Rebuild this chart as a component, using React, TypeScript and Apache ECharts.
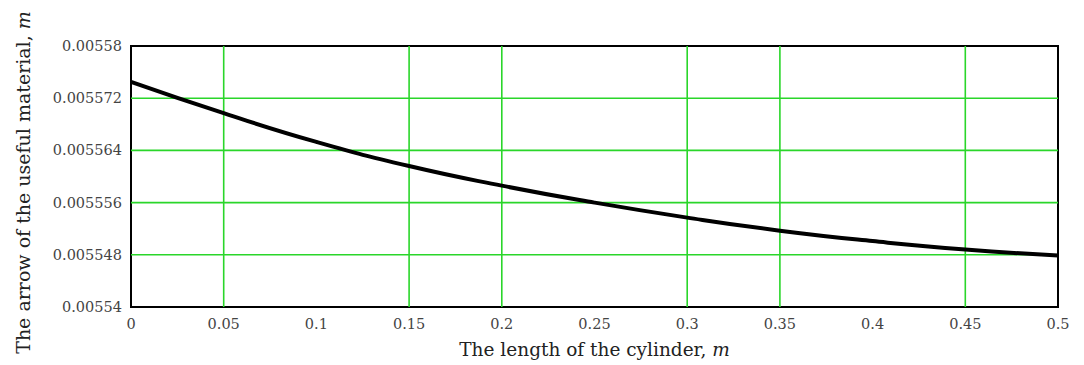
import React, { useEffect, useRef } from "react";
import * as echarts from "echarts";

const xValues = [0, 0.05, 0.1, 0.15, 0.2, 0.25, 0.3, 0.35, 0.4, 0.45, 0.5];
const yValues = [
  0.0055745, 0.0055697, 0.0055653, 0.0055616, 0.0055586, 0.005556,
  0.0055537, 0.0055517, 0.0055501, 0.0055488, 0.0055479,
];
const yMin = 0.00554;
const yMax = 0.00558;
const yLabelStep = 0.000008;
const yTickLabels = ["0.00554", "0.005548", "0.005556", "0.005564", "0.005572", "0.00558"];
const xMin = 0;
const xMax = 0.5;
const xStep = 0.05;
// grid lines visible in the reference
const xGridLines = [0.05, 0.15, 0.2, 0.3, 0.35, 0.45];
const yGridLines = [0.005548, 0.005556, 0.005564, 0.005572];

const xTitle = "The length of the cylinder, ";
const yTitle = "The arrow of the useful material, ";
const unit = "m";

export default function App() {
  const ref = useRef<HTMLDivElement>(null);
  useEffect(() => {
    if (!ref.current) return;
    const chart = echarts.init(ref.current, undefined, { renderer: "svg" });
    const font = "'DejaVu Serif', 'Liberation Serif', serif";
    const tickFont = "'DejaVu Serif', serif";
    const green = "#2ad62a";
    const gridSeries = [
      ...xGridLines.map((x) => [
        [x, yMin],
        [x, yMax],
      ]),
      ...yGridLines.map((y) => [
        [xMin, y],
        [xMax, y],
      ]),
    ].map((d) => ({
      type: "line",
      data: d,
      z: 1,
      silent: true,
      showSymbol: false,
      lineStyle: { color: green, width: 1.6 },
    }));
    chart.setOption({
      animation: false,
      backgroundColor: "#ffffff",
      grid: {
        left: 131,
        right: 26,
        top: 46,
        bottom: 58,
        show: true,
        borderColor: "#000",
        borderWidth: 2,
        backgroundColor: "transparent",
      },
      xAxis: {
        type: "value",
        min: xMin,
        max: xMax,
        interval: xStep,
        axisLine: { show: false },
        axisTick: { show: false },
        splitLine: { show: false },
        axisLabel: {
          margin: 9,
          fontFamily: tickFont,
          fontSize: 14.5,
          color: "#444",
          formatter: (v: number) => String(Number(v.toPrecision(3))),
        },
        name: xTitle + "{i|" + unit + "}",
        nameLocation: "middle",
        nameGap: 33,
        nameTextStyle: {
          fontFamily: font,
          fontSize: 18.5,
          color: "#222",
          rich: { i: { fontStyle: "italic", fontFamily: font, fontSize: 18.5, color: "#222" } },
        },
      },
      yAxis: {
        type: "value",
        min: yMin,
        max: yMax,
        interval: yLabelStep / 2,
        axisLine: { show: false },
        axisTick: { show: false },
        splitLine: { show: false },
        axisLabel: {
          margin: 9,
          fontFamily: tickFont,
          fontSize: 14.5,
          color: "#444",
          formatter: (v: number) => {
            const k = Math.round((v - yMin) / (yLabelStep / 2));
            if (k % 2 !== 0) return "";
            return yTickLabels[k / 2] ?? "";
          },
        },
        name: yTitle + "{i|" + unit + "}",
        nameLocation: "middle",
        nameRotate: 90,
        nameGap: 99,
        nameTextStyle: {
          fontFamily: font,
          fontSize: 19,
          color: "#222",
          padding: [0, 12, 0, 0],
          rich: { i: { fontStyle: "italic", fontFamily: font, fontSize: 19, color: "#222" } },
        },
      },
      series: [
        ...gridSeries,
        {
          type: "line",
          z: 3,
          data: xValues.map((x, i) => [x, yValues[i]]),
          smooth: true,
          showSymbol: false,
          lineStyle: { color: "#000", width: 4 },
        },
      ],
    });
    return () => chart.dispose();
  }, []);
  return (
    <div
      ref={ref}
      style={{ position: "fixed", left: 0, top: 0, width: 1084, height: 365 }}
    />
  );
}
